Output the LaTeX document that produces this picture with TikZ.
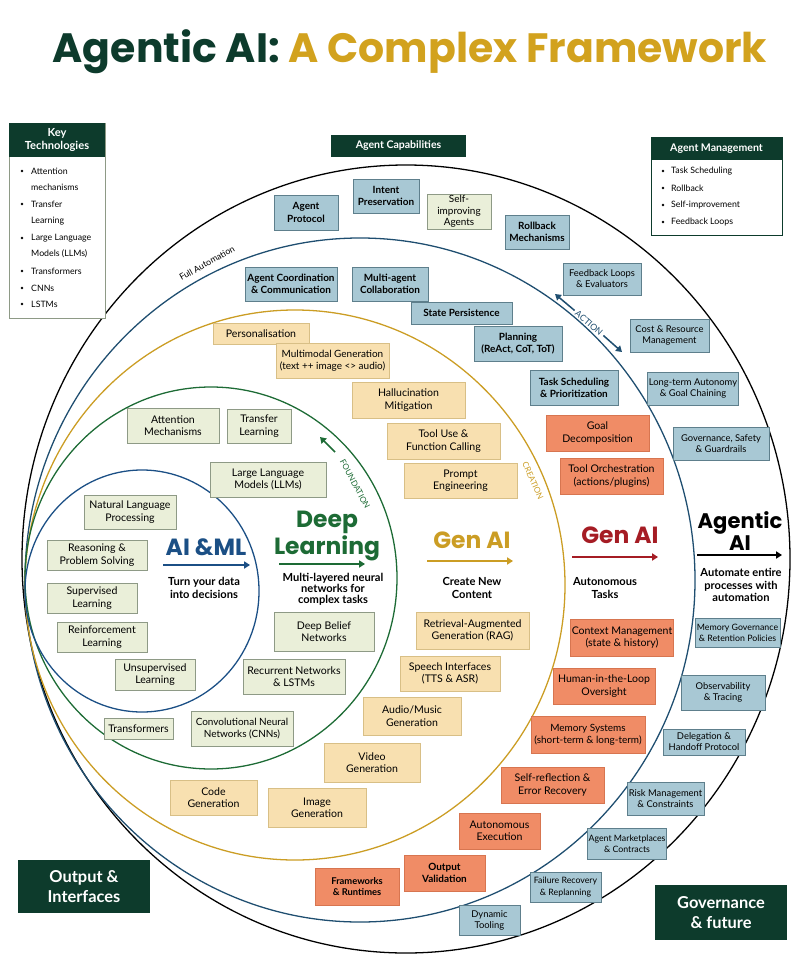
\documentclass[tikz,border=0pt]{standalone}
\usepackage{fontspec}
\setmainfont{Lato}
\newfontfamily\hd{Poppins}
\usepackage{tikz}
\usetikzlibrary{arrows.meta}
\definecolor{dkgreen}{HTML}{0D3B2C}
\definecolor{titlegold}{HTML}{D2A21E}
\definecolor{lgfill}{HTML}{EAEFD9}
\definecolor{lgline}{HTML}{8E9A86}
\definecolor{yefill}{HTML}{F8E0B0}
\definecolor{yeline}{HTML}{D8BF86}
\definecolor{blfill}{HTML}{A8C8D4}
\definecolor{blline}{HTML}{5E7F8C}
\definecolor{orfill}{HTML}{F08C66}
\definecolor{orline}{HTML}{D77550}
\definecolor{genred}{HTML}{A51C24}
\definecolor{aiblue}{HTML}{1B4F85}
\definecolor{dlgreen}{HTML}{1D6B35}
\definecolor{genyel}{HTML}{CB9D24}
\definecolor{ringblue}{HTML}{1F4E70}
\tikzstyle{box}=[draw, line width=0.8pt, inner sep=1pt, align=center, font=\fontsize{9}{10.5}\selectfont]
\tikzstyle{lg}=[box, fill=lgfill, draw=lgline]
\tikzstyle{ye}=[box, fill=yefill, draw=yeline]
\tikzstyle{bl}=[box, fill=blfill, draw=blline, font=\fontsize{8.5}{10.5}\selectfont\bfseries]
\tikzstyle{bls}=[box, fill=blfill, draw=blline, font=\fontsize{8}{9.5}\selectfont]
\tikzstyle{or}=[box, fill=orfill, draw=orline]
\tikzstyle{head}=[fill=dkgreen, text=white, align=center, inner sep=1pt]
\tikzstyle{ring}=[line width=1.1pt]
\tikzstyle{big}=[font=\hd\bfseries\fontsize{20}{19}\selectfont, align=center]
\tikzstyle{sub}=[font=\fontsize{9.5}{11}\selectfont\bfseries, align=center]
\tikzstyle{bar}=[line width=1.6pt, -{Triangle[length=5pt,width=6pt]}]
\tikzstyle{arclab}=[font=\fontsize{7.5}{8}\selectfont, inner sep=1pt]
\newcommand\bx[7]{\node[#1, minimum width={(#5-#3)*0.03cm}, minimum height={(#6-#4)*0.03cm}] (#2) at ({(#3+#5)/2},{(#4+#6)/2}) {#7};}
\begin{document}
\begin{tikzpicture}[x=0.03cm, y=-0.03cm]
		\useasboundingbox (0,0) rectangle (800,958);
		% title
		\node[font=\hd\bfseries\fontsize{35}{38}\selectfont] (title) at (410,52)
		{\textcolor{dkgreen}{Agentic AI:} \textcolor{titlegold}{A Complex Framework}};
		
		% rings
		\draw[ring] (406,559) ellipse [x radius=384, y radius=394];
		\draw[ring, ringblue] (360,580) ellipse [x radius=335, y radius=342];
		\draw[ring, genyel] (295,585) ellipse [x radius=270, y radius=275];
		\draw[ring, dlgreen] (211,578) ellipse [x radius=186, y radius=191];
		\draw[ring, aiblue] (142,591) ellipse [x radius=117, y radius=121];
		
		% side panels
		\draw[lgline, line width=0.8pt, fill=white] (9,123) rectangle (105,318);
		\bx{head, font=\fontsize{9.5}{11}\selectfont\bfseries}{keyt}{9}{123}{105}{157}{Key\\Technologies}
		\foreach \y/\txt/\b in {171/Attention/1, 187/mechanisms/0, 204/Transfer/1, 221/Learning/0,
			238/Large Language/1, 254/Models (LLMs)/0, 271/Transformers/1, 288/CNNs/1, 304/LSTMs/1}
		{\node[anchor=west, font=\fontsize{7.5}{9}\selectfont, inner sep=0pt] (k\y) at (31,\y) {\txt};
			\ifnum\b=1 \fill (22,\y) circle [radius=1.3]; \fi}
		
		\draw[dkgreen, line width=0.8pt] (651,137) rectangle (782,235);
		\bx{head, font=\fontsize{9}{11}\selectfont\bfseries}{mgmt}{651}{137}{782}{160}{Agent Management}
		\foreach \y/\txt in {171/Task Scheduling, 188/Rollback, 205/Self-improvement, 222/Feedback Loops}
		{\node[anchor=west, font=\fontsize{7.5}{9}\selectfont, inner sep=0pt] (m\y) at (671,\y) {\txt};
			\fill (663,\y) circle [radius=1.3];}
		
		\bx{head, font=\fontsize{9}{11}\selectfont\bfseries}{caps}{331}{135}{466}{157}{Agent Capabilities}
		\bx{head, font=\fontsize{14}{17}\selectfont\bfseries}{outp}{18}{860}{150}{913}{Output \&\\Interfaces}
		\bx{head, font=\fontsize{14}{17}\selectfont\bfseries}{gov}{655}{885}{787}{940}{Governance\\\& future}
		
		% foundation boxes
		\bx{lg}{attn}{127}{408}{219}{443}{Attention\\Mechanisms}
		\bx{lg}{trl}{227}{409}{291}{443}{Transfer\\Learning}
		\bx{lg}{llm}{210}{462}{326}{497}{Large Language\\Models (LLMs)}
		\bx{lg}{nlp}{84}{495}{176}{529}{Natural Language\\Processing}
		\bx{lg}{reas}{47}{540}{147}{570}{Reasoning \&\\Problem Solving}
		\bx{lg}{sup}{47}{583}{137}{613}{Supervised\\Learning}
		\bx{lg}{rein}{57}{622}{147}{652}{Reinforcement\\Learning}
		\bx{lg}{unsup}{115}{659}{195}{690}{Unsupervised\\Learning}
		\bx{lg}{dbn}{274}{612}{374}{651}{Deep Belief\\Networks}
		\bx{lg}{rnn}{243}{659}{345}{694}{Recurrent Networks\\\& LSTMs}
		\bx{lg}{trf}{104}{718}{173}{739}{Transformers}
		\bx{lg, font=\fontsize{8.5}{10}\selectfont}{cnn}{191}{711}{293}{746}{Convolutional Neural\\Networks (CNNs)}
		
		% creation boxes
		\bx{ye}{pers}{213}{323}{309}{344}{Personalisation}
		\bx{ye, font=\fontsize{8.5}{10}\selectfont}{mmg}{276}{343}{389}{378}{Multimodal Generation\\(text ++ image <> audio)}
		\bx{ye}{hall}{352}{382}{465}{418}{Hallucination\\Mitigation}
		\bx{ye}{tool}{387}{423}{500}{459}{Tool Use \&\\Function Calling}
		\bx{ye}{prmt}{404}{463}{517}{498}{Prompt\\Engineering}
		\bx{ye}{rag}{416}{612}{529}{649}{Retrieval-Augmented\\Generation (RAG)}
		\bx{ye}{spch}{400}{656}{500}{691}{Speech Interfaces\\(TTS \& ASR)}
		\bx{ye}{audio}{363}{697}{461}{735}{Audio/Music\\Generation}
		\bx{ye}{video}{324}{743}{420}{782}{Video\\Generation}
		\bx{ye}{code}{170}{780}{257}{815}{Code\\Generation}
		\bx{ye}{img}{268}{788}{366}{827}{Image\\Generation}
		
		% autonomy boxes
		\bx{or}{goal}{546}{415}{649}{451}{Goal\\Decomposition}
		\bx{or}{orch}{560}{458}{663}{494}{Tool Orchestration\\(actions/plugins)}
		\bx{or}{ctx}{571}{619}{673}{656}{Context Management\\(state \& history)}
		\bx{or}{hitl}{553}{668}{655}{704}{Human-in-the-Loop\\Oversight}
		\bx{or, font=\fontsize{8.5}{10.5}\selectfont}{mem}{531}{716}{645}{753}{Memory Systems\\(short-term \& long-term)}
		\bx{or}{refl}{501}{767}{604}{803}{Self-reflection \&\\Error Recovery}
		\bx{or}{auto}{459}{813}{540}{849}{Autonomous\\Execution}
		\bx{or, font=\fontsize{8.5}{10.5}\selectfont\bfseries}{outv}{404}{855}{485}{891}{Output\\Validation}
		\bx{or, font=\fontsize{8}{10}\selectfont\bfseries}{frm}{315}{868}{399}{905}{Frameworks\\\& Runtimes}
		
		% capability boxes
		\bx{bl}{aprot}{274}{195}{338}{230}{Agent\\Protocol}
		\bx{bl}{intent}{353}{179}{419}{213}{Intent\\Preservation}
		\bx{bl}{rollb}{505}{215}{569}{249}{Rollback\\Mechanisms}
		\bx{bl}{coord}{245}{267}{337}{301}{Agent Coordination\\\& Communication}
		\bx{bl}{multi}{352}{267}{428}{301}{Multi-agent\\Collaboration}
		\bx{bl}{state}{411}{302}{512}{324}{State Persistence}
		\bx{bl}{plan}{474}{326}{562}{361}{Planning\\(ReAct, CoT, ToT)}
		\bx{bl}{tasks}{530}{370}{618}{405}{Task Scheduling\\\& Prioritization}
		\bx{lg, font=\fontsize{8.5}{10}\selectfont}{selfimp}{427}{194}{491}{229}{Self-\\improving\\Agents}
		
		\bx{bls}{fbl}{563}{263}{641}{295}{Feedback Loops\\\& Evaluators}
		\bx{bls}{cost}{630}{319}{709}{352}{Cost \& Resource\\Management}
		\bx{bls}{ltau}{649}{372}{737}{405}{Long-term Autonomy\\\& Goal Chaining}
		\bx{bls}{govs}{673}{427}{769}{460}{Governance, Safety\\\& Guardrails}
		\bx{bls, font=\fontsize{7.5}{9.5}\selectfont}{memg}{695}{618}{780}{647}{Memory Governance\\\& Retention Policies}
		\bx{bls}{obs}{681}{675}{765}{710}{Observability\\\& Tracing}
		\bx{bls}{deleg}{663}{729}{745}{755}{Delegation \&\\Handoff Protocol}
		\bx{bls}{risk}{627}{782}{704}{815}{Risk Management\\\& Constraints}
		\bx{bls, font=\fontsize{7.5}{9.5}\selectfont}{mkt}{589}{828}{665}{859}{Agent Marketplaces\\\& Contracts}
		\bx{bls, font=\fontsize{7.5}{9.5}\selectfont}{fail}{530}{872}{601}{902}{Failure Recovery\\\& Replanning}
		\bx{bls}{dyn}{459}{905}{520}{935}{Dynamic\\Tooling}
		
		% layer titles
		\node[big, aiblue] (aiml) at (206,547) {AI \&ML};
		\draw[bar, aiblue] (163,565) -- (250,565);
		\node[sub] (aimlsub) at (204,588) {Turn your data\\into decisions};
		
		\node[big, dlgreen] (dl) at (327,536) {Deep\\Learning};
		\draw[bar, dlgreen] (279,564) -- (365,564);
		\node[sub, font=\fontsize{9.5}{9.5}\selectfont\bfseries] (dlsub) at (333,589) {Multi-layered neural\\networks for\\complex tasks};
		
		\node[big, genyel] (gen) at (472,540) {Gen AI};
		\draw[bar, genyel] (427,561) -- (513,561);
		\node[sub] (gensub) at (472,588) {Create New\\Content};
		
		\node[big, genred] (agen) at (620,535) {Gen AI};
		\draw[bar, genred] (572,557) -- (658,557);
		\node[sub] (agensub) at (605,588) {Autonomous\\Tasks};
		
		\node[big, font=\hd\bfseries\fontsize{18}{17}\selectfont] (agai) at (740,531) {Agentic\\AI};
		\draw[bar] (697,555) -- (782,555);
		\node[sub] (agaisub) at (741,585) {Automate entire\\processes with\\automation};
		
		% ring labels
		\node[arclab, rotate=29] (full) at (207,263) {Full Automation};
		\node[arclab, ringblue, rotate=-41, inner sep=2pt] (act) at (589,323) {ACTION};
		\draw[ringblue, line width=1.3pt, {Triangle[length=5pt,width=6pt]}-] (555,294) -- (act.west);
		\draw[ringblue, line width=1.3pt, -{Triangle[length=5pt,width=6pt]}] (act.east) -- (622,352);
		\node[arclab, dlgreen, rotate=-62, font=\fontsize{7}{8}\selectfont] (fnd) at (355,484) {FOUNDATION};
		\draw[dlgreen, line width=1.3pt, -{Triangle[length=5pt,width=6pt]}] (335,452) -- (320,437);
		\node[arclab, genyel, rotate=-66, font=\fontsize{7}{8}\selectfont] (crt) at (533,481) {CREATION};
\end{tikzpicture}
\end{document}
